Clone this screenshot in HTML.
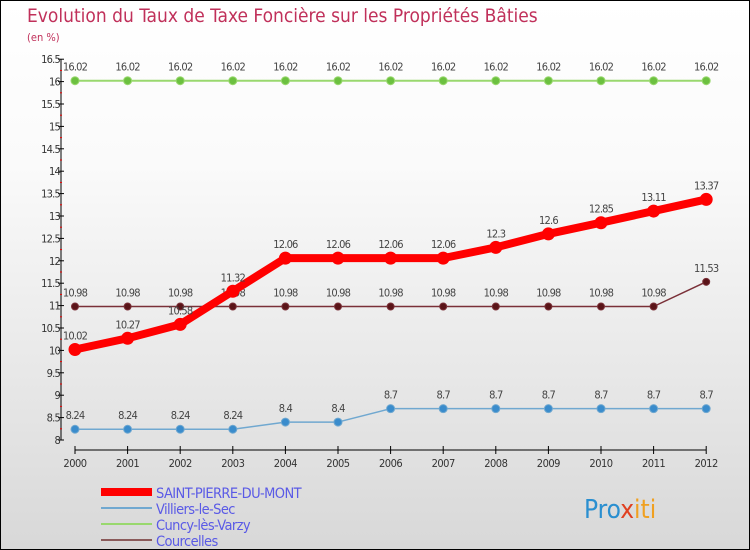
<!DOCTYPE html>
<html><head><meta charset="utf-8"><style>
body{margin:0}
#c{width:748px;height:548px;border:1px solid #000;background:linear-gradient(#fff,#fafafa 30%,#e2e2e2 80%,#d8d8d8);position:relative;font-family:"DejaVu Sans Condensed","Liberation Sans",sans-serif;overflow:hidden}
svg text{font-family:"DejaVu Sans Condensed","Liberation Sans",sans-serif}
</style></head><body>
<div id="c">
<svg id="s" width="748" height="548">
<text x="26" y="21" font-size="19" font-weight="300" fill="#c0305a">Evolution du Taux de Taxe Foncière sur les Propriétés Bâties</text>
<text x="26" y="40" font-size="11" fill="#c0305a">(en %)</text>
<text x="583" y="517" font-size="26" fill="#2a8fd0">Pro<tspan fill="#e04020">x</tspan><tspan fill="#f0a020">iti</tspan></text>
</svg>
</div>
<script>
const years=[2000,2001,2002,2003,2004,2005,2006,2007,2008,2009,2010,2011,2012];
const yTicks=[8,8.5,9,9.5,10,10.5,11,11.5,12,12.5,13,13.5,14,14.5,15,15.5,16,16.5];
const saint=[10.02,10.27,10.58,11.32,12.06,12.06,12.06,12.06,12.3,12.6,12.85,13.11,13.37];
const villiers=[8.24,8.24,8.24,8.24,8.4,8.4,8.7,8.7,8.7,8.7,8.7,8.7,8.7];
const cuncy=[16.02,16.02,16.02,16.02,16.02,16.02,16.02,16.02,16.02,16.02,16.02,16.02,16.02];
const courcelles=[10.98,10.98,10.98,10.98,10.98,10.98,10.98,10.98,10.98,10.98,10.98,10.98,11.53];
const svg=document.getElementById('s');const NS='http://www.w3.org/2000/svg';
const X=i=>74+i*52.6, Y=v=>439-(v-8)*44.8;
function mk(t,a,p){const e=document.createElementNS(NS,t);for(const k in a)e.setAttribute(k,a[k]);(p||svg).appendChild(e);return e;}
const ax=mk('g',{});
mk('line',{x1:60,y1:Y(16.5),x2:60,y2:Y(8),stroke:'#000'},ax);
mk('line',{x1:X(0),y1:449,x2:X(12),y2:449,stroke:'#000'},ax);
yTicks.forEach(v=>{mk('line',{x1:57,x2:63,y1:Y(v),y2:Y(v),stroke:'#000'},ax);
 if(v<16.5)mk('line',{x1:59,x2:61,y1:Y(v+0.25),y2:Y(v+0.25),stroke:'#e00'},ax);
 const t=mk('text',{x:59,y:Y(v)+4,'text-anchor':'end','font-size':11,fill:'#333','letter-spacing':'-0.8'},ax);t.textContent=String(v);
 });
years.forEach((y,i)=>{mk('line',{x1:X(i),x2:X(i),y1:445,y2:453,stroke:'#000'},ax);
 const t=mk('text',{x:X(i),y:466,'text-anchor':'middle','font-size':11,fill:'#333','letter-spacing':'-0.5'},ax);t.textContent=y;
 });
function series(d,color,w,r,fill,name){const g=mk('g',{});
 mk('polyline',{points:d.map((v,i)=>X(i)+','+Y(v)).join(' '),fill:'none',stroke:color,'stroke-width':w,'stroke-linejoin':'round'},g);
 d.forEach((v,i)=>{const c=mk('circle',{cx:X(i),cy:Y(v),r:r,fill:fill,stroke:color,'stroke-width':1},g);
  
  const t=mk('text',{x:X(i),y:Y(v)-10,'text-anchor':'middle','font-size':11,fill:'#444','letter-spacing':'-0.8'},g);t.textContent=String(v);
  });}
series(cuncy,'#99d86e',2,4,'#6cc040','series-cuncy');
series(villiers,'#70a8d0',1.5,4,'#3a8ccc','series-villiers');
series(courcelles,'#7a3038',1.5,3.5,'#5a1418','series-courcelles');
series(saint,'#f00',8,6,'#f00','series-saint-pierre');
const leg=[['SAINT-PIERRE-DU-MONT','#f00',8],['Villiers-le-Sec','#70a8d0',2],['Cuncy-lès-Varzy','#99d86e',2],['Courcelles','#8a5a5a',2]];
leg.forEach((l,i)=>{const g=mk('g',{});
 const y=491+i*16;mk('line',{x1:100,x2:151,y1:y,y2:y,stroke:l[1],'stroke-width':l[2]},g);
 const t=mk('text',{x:155,y:y+6,'font-size':14.5,fill:'#5a5ae6','letter-spacing':'-0.6'},g);t.textContent=l[0];});
</script>
</body></html>
